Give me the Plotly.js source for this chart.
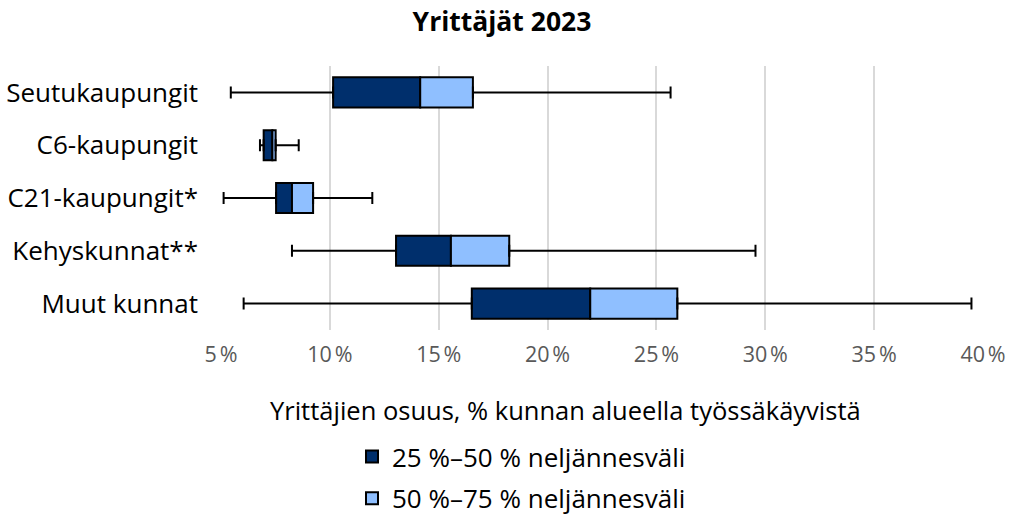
<!DOCTYPE html>
<html>
<head>
<meta charset="utf-8">
<script src="https://cdn.plot.ly/plotly-3.0.1.min.js"></script>
<style>html,body{margin:0;padding:0;background:#fff;}#chart{width:1017px;height:515px;}</style>
</head>
<body>
<div id="chart"></div>
<script>
var categories = ["Seutukaupungit", "C6-kaupungit", "C21-kaupungit*", "Kehyskunnat**", "Muut kunnat"];
var minVals    = [5.45, 6.79, 5.12, 8.26, 6.04];
var q1Vals     = [10.15, 6.96, 7.53, 13.04, 16.52];
var medianVals = [14.15, 7.36, 8.26, 15.56, 21.96];
var q3Vals     = [16.57, 7.51, 9.23, 18.24, 25.96];
var maxVals    = [25.65, 8.57, 11.95, 29.55, 39.47];
var tickVals   = [5, 10, 15, 20, 25, 30, 35, 40];
var tickText   = ["5\u202F%", "10\u202F%", "15\u202F%", "20\u202F%", "25\u202F%", "30\u202F%", "35\u202F%", "40\u202F%"];
var seriesNames = ["25 %\u201350 % neljännesväli", "50 %\u201375 % neljännesväli"];
var axisTitle = "Yrittäjien osuus, % kunnan alueella työssäkäyvistä";
var chartTitle = "Yrittäjät 2023";

var FONT = "Open Sans, Noto Sans, sans-serif";

var lowerWhisker = {
  type: "scatter", mode: "markers",
  y: categories, x: q1Vals,
  marker: {opacity: 0, size: 1},
  error_x: {type: "data", symmetric: false,
    array: q1Vals.map(function(){return 0;}),
    arrayminus: q1Vals.map(function(v, i){return v - minVals[i];}),
    color: "#000", thickness: 2, width: 6},
  showlegend: false, hoverinfo: "skip"
};
var darkBar = {
  type: "bar", orientation: "h", name: seriesNames[0], legendgroup: "a",
  y: categories, base: q1Vals,
  x: medianVals.map(function(v, i){return v - q1Vals[i];}),
  marker: {color: "#002F6C", line: {color: "#000", width: 2}}
};
var lightBar = {
  type: "bar", orientation: "h", name: seriesNames[1], legendgroup: "b",
  y: categories, base: medianVals,
  x: q3Vals.map(function(v, i){return v - medianVals[i];}),
  marker: {color: "#8FBFFF", line: {color: "#000", width: 2}},
  error_x: {type: "data", symmetric: false,
    array: maxVals.map(function(v, i){return v - q3Vals[i];}),
    arrayminus: q3Vals.map(function(){return 0;}),
    color: "#000", thickness: 2, width: 6}
};

var layout = {
  width: 1017, height: 515,
  margin: {l: 221, r: 34, t: 66, b: 185, autoexpand: false},
  paper_bgcolor: "#fff", plot_bgcolor: "#fff",
  barmode: "overlay", bargap: 0.43,
  font: {family: FONT, color: "#000"},
  title: {text: "<b>" + chartTitle + "</b>", x: 502 / 1017, xref: "container", xanchor: "center",
    y: 1 - 22/515, yanchor: "middle",
    font: {family: FONT, size: 26.5, color: "#000"}},
  xaxis: {range: [5, 40], tickvals: tickVals, ticktext: tickText,
    showgrid: true, gridcolor: "#D9D9D9", gridwidth: 2, zeroline: false,
    showline: false, ticks: "", ticklabelstandoff: 9,
    tickfont: {family: FONT, size: 21.5, color: "#595959"},
    automargin: false, fixedrange: true},
  yaxis: {autorange: "reversed", type: "category", showgrid: false, ticks: "",
    ticklabelstandoff: 22, automargin: false,
    tickfont: {family: FONT, size: 26, color: "#000"}, fixedrange: true},
  annotations: [{
    text: axisTitle, xref: "paper", yref: "paper",
    x: (565 - 221) / 762, y: -(410 - 330) / 264, xanchor: "center", yanchor: "middle",
    showarrow: false, font: {family: FONT, size: 25.5, color: "#000"}
  }],
  legend: {orientation: "v", xref: "container", yref: "container",
    x: 352 / 1017, xanchor: "left", y: 1 - 433 / 515, yanchor: "top",
    font: {family: FONT, size: 26, color: "#000"}, traceorder: "grouped",
    tracegroupgap: 5},
  showlegend: true
};

Plotly.newPlot("chart", [darkBar, lightBar, lowerWhisker], layout, {displayModeBar: false, staticPlot: true});
</script>
</body>
</html>
